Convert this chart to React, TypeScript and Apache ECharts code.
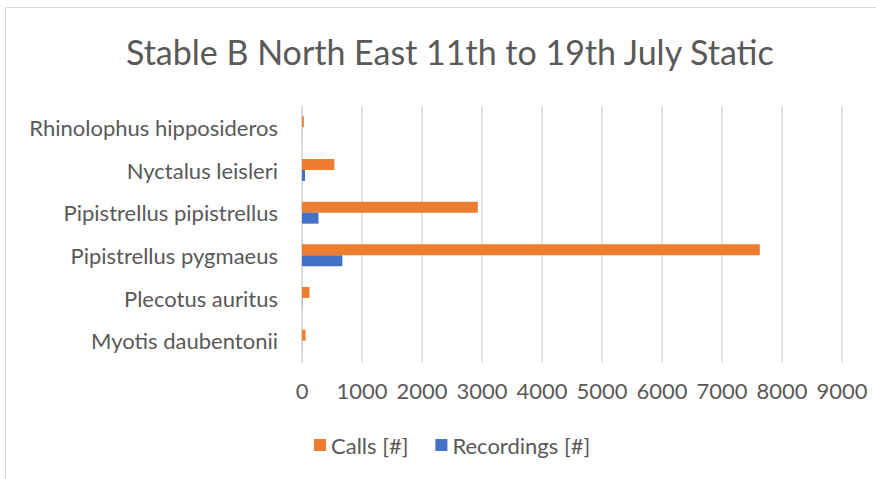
import React, { useEffect, useRef } from "react";
import * as echarts from "echarts";

const categories = [
  "Myotis daubentonii",
  "Plecotus auritus",
  "Pipistrellus pygmaeus",
  "Pipistrellus pipistrellus",
  "Nyctalus leisleri",
  "Rhinolophus hipposideros",
];
const calls = [60, 125, 7630, 2930, 540, 30];
const recordings = [3, 5, 672, 275, 50, 1];
const xTicks = [0, 1000, 2000, 3000, 4000, 5000, 6000, 7000, 8000, 9000];

const FONT = "Lato";
const TXT = "#595959";

export default function App() {
  const ref = useRef<HTMLDivElement>(null);
  useEffect(() => {
    const chart = echarts.init(ref.current!, undefined, { renderer: "svg" });
    chart.setOption({
      animation: false,
      backgroundColor: "#ffffff",
      textStyle: { fontFamily: FONT },
      title: {
        text: "Stable B North East 11th to 19th July Static",
        left: 121,
        top: 29,
        textStyle: { fontFamily: FONT, fontSize: 34, fontWeight: "normal", color: TXT },
      },
      graphic: [
        {
          type: "rect",
          shape: { x: 5.5, y: 7.5, width: 900, height: 500 },
          style: { fill: "none", stroke: "#d9d9d9", lineWidth: 1 },
          silent: true,
        },
      ],
      legend: {
        data: ["Calls [#]", "Recordings [#]"],
        left: 309,
        top: 429,
        itemWidth: 12,
        itemHeight: 12,
        itemGap: 27,
        icon: "rect",
        textStyle: { fontFamily: FONT, fontSize: 22, color: TXT },
      },
      grid: { left: 302, right: 34, top: 106, bottom: 117, containLabel: false },
      xAxis: {
        type: "value",
        min: xTicks[0],
        max: xTicks[xTicks.length - 1],
        interval: 1000,
        axisLine: { show: false },
        axisTick: { show: false },
        splitLine: { show: true, lineStyle: { color: "#d9d9d9", width: 1.5 } },
        axisLabel: {
          fontFamily: FONT,
          fontSize: 22,
          color: TXT,
          margin: 17,
          formatter: (v: number) => String(v),
        },
      },
      yAxis: {
        type: "category",
        data: categories,
        axisLine: { show: true, lineStyle: { color: "#d9d9d9", width: 1.5 } },
        axisTick: { show: false },
        axisLabel: { fontFamily: FONT, fontSize: 22, color: TXT, margin: 24 },
      },
      series: [
        {
          name: "Calls [#]",
          type: "bar",
          data: calls,
          itemStyle: { color: "#ed7d31" },
          barWidth: 11,
          barGap: "0%",
        },
        {
          name: "Recordings [#]",
          type: "bar",
          data: recordings,
          itemStyle: { color: "#4472c4" },
          barWidth: 11,
          barGap: "0%",
        },
      ],
    });
    return () => chart.dispose();
  }, []);
  return (
    <div
      ref={ref}
      style={{ position: "fixed", left: 0, top: 0, width: 876, height: 479 }}
    />
  );
}
